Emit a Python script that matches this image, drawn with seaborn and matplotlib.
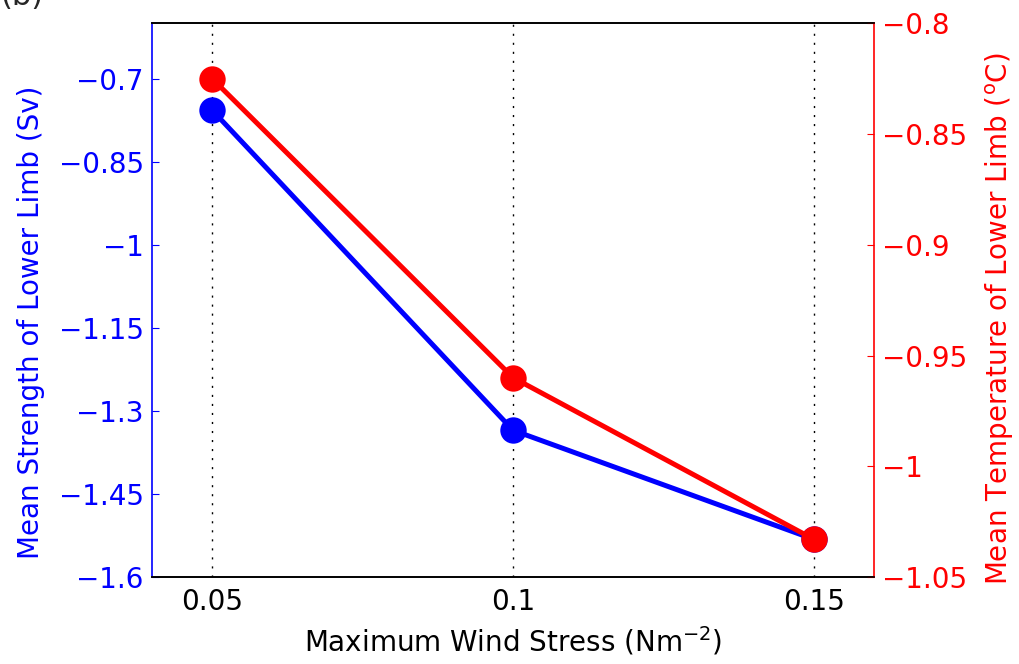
import matplotlib
matplotlib.use("Agg")
import matplotlib.pyplot as plt
import seaborn as sns
import pandas as pd
from matplotlib.ticker import FuncFormatter

# Maximum wind stress (N m^-2)
wind_stress = [0.05, 0.1, 0.15]
# Mean strength of the lower limb (Sv)
strength = [-0.757, -1.335, -1.532]
# Mean temperature of the lower limb (deg C)
temperature = [-0.825, -0.960, -1.033]

left_ticks = [-1.6, -1.45, -1.3, -1.15, -1.0, -0.85, -0.7]
right_ticks = [-1.05, -1.0, -0.95, -0.9, -0.85, -0.8]
x_ticks = [0.05, 0.1, 0.15]

sns.set_style("white")
plt.rcParams["font.family"] = ["DejaVu Sans"]
plt.rcParams["axes.unicode_minus"] = True

df = pd.DataFrame({"wind": wind_stress, "strength": strength, "temp": temperature})

fig = plt.figure(figsize=(10.2, 6.64), dpi=100)
ax = fig.add_axes([0.149, 0.131, 0.708, 0.834])
ax2 = ax.twinx()

blue = "#0000ff"
red = "#ff0000"

sns.lineplot(data=df, x="wind", y="strength", ax=ax, color=blue, lw=3.6,
             marker="o", markersize=19, markeredgewidth=0, zorder=3)
sns.lineplot(data=df, x="wind", y="temp", ax=ax2, color=red, lw=3.6,
             marker="o", markersize=19, markeredgewidth=0, zorder=3)

fmt = FuncFormatter(lambda v, p: f"{v:g}".replace("-", "\u2212"))

ax.set_xlim(0.04, 0.16)
ax.set_ylim(-1.6, -0.6)
ax2.set_ylim(-1.05, -0.8)
ax.set_xticks(x_ticks)
ax.set_xticklabels([f"{v:g}" for v in x_ticks])
ax.set_yticks(left_ticks)
ax.yaxis.set_major_formatter(fmt)
ax2.set_yticks(right_ticks)
ax2.yaxis.set_major_formatter(fmt)

for xv in x_ticks:
    ax.axvline(xv, color="black", lw=1.0, ls=(0, (1.5, 5)), zorder=1)

ax.set_xlabel("Maximum Wind Stress (Nm$^{-2}$)", fontsize=20, color="black", labelpad=6)
ax.set_ylabel("Mean Strength of Lower Limb (Sv)", fontsize=20, color=blue)
ax2.set_ylabel("Mean Temperature of Lower Limb ($^{\\mathrm{o}}$C)", fontsize=20, color=red)
ax.yaxis.set_label_coords(-0.148, 0.46)
ax2.yaxis.set_label_coords(1.151, 0.467)

ax.tick_params(axis="x", direction="in", length=5, labelsize=20, colors="black", pad=8)
ax.tick_params(axis="y", direction="in", length=5, labelsize=20, colors=blue, pad=6)
ax2.tick_params(axis="y", direction="in", length=5, labelsize=20, colors=red, pad=6)

for a in (ax, ax2):
    a.spines["top"].set_color("black")
    a.spines["bottom"].set_color("black")
    a.spines["left"].set_color(blue)
    a.spines["right"].set_color(red)
    for s in a.spines.values():
        s.set_linewidth(1.2)
ax2.spines["left"].set_visible(False)
ax.spines["right"].set_visible(False)

fig.text(0.0, 1.005, "(b)", fontsize=22, ha="left", va="center")

fig.savefig("out.png", dpi=100)
